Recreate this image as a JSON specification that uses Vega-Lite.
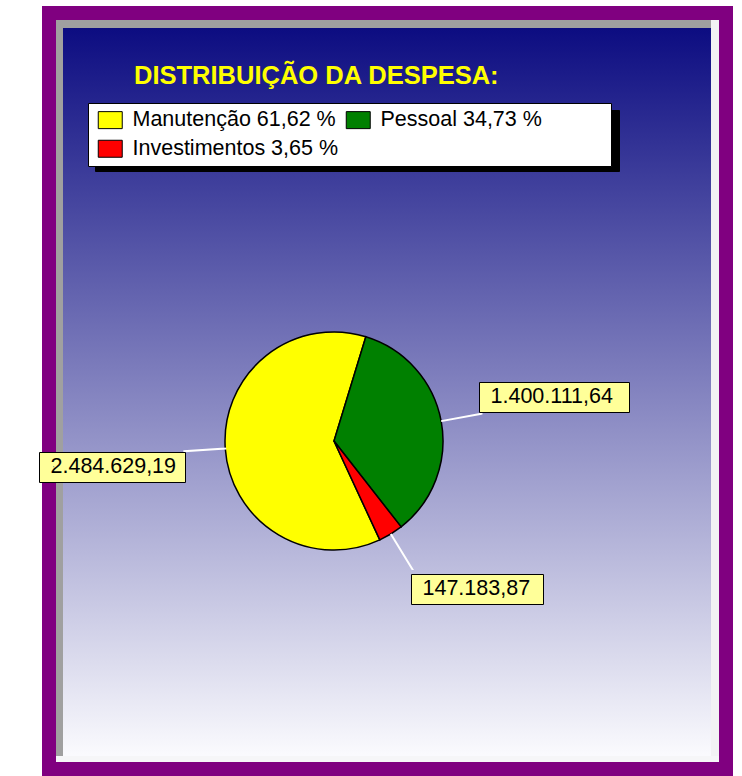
{
  "$schema": "https://vega.github.io/schema/vega-lite/v6.json",
  "width": 677,
  "height": 756,
  "autosize": {"type": "none"},
  "padding": {"left": 49, "top": 13, "right": 16, "bottom": 7},
  "background": "#ffffff",
  "view": {
    "stroke": "#800080",
    "strokeWidth": 14,
    "fill": {"gradient": "linear", "x1": 0, "y1": 0, "x2": 0, "y2": 1,
      "stops": [{"offset": 0.01, "color": "#0a0a80"}, {"offset": 0.985, "color": "#fbfbfe"}, {"offset": 1, "color": "#fbfbfe"}]}
  },
  "config": {
    "font": "Liberation Sans",
    "locale": {"number": {"decimal": ",", "thousands": ".", "grouping": [3], "currency": ["R$ ", ""]}}
  },
  "title": {
    "text": "DISTRIBUIÇÃO DA DESPESA:",
    "orient": "top",
    "anchor": "start",
    "frame": "group",
    "offset": -76,
    "dx": 85,
    "color": "#ffff00",
    "font": "Liberation Sans",
    "fontSize": 25.5,
    "fontWeight": "bold"
  },
  "data": {
    "values": [
      {"categoria": "Manutenção", "legenda": "Manutenção 61,62 %", "valor": 2484629.19},
      {"categoria": "Pessoal", "legenda": "Pessoal 34,73 %", "valor": 1400111.64},
      {"categoria": "Investimentos", "legenda": "Investimentos 3,65 %", "valor": 147183.87}
    ]
  },
  "layer": [
    {
      "data": {"values": [{}]},
      "mark": {"type": "rule", "stroke": "#a0a0a0", "strokeWidth": 7, "strokeCap": "butt"},
      "encoding": {"x": {"value": 10.5}, "y": {"value": 7}, "y2": {"value": 749}}
    },
    {
      "data": {"values": [{}]},
      "mark": {"type": "rule", "stroke": "#a0a0a0", "strokeWidth": 8, "strokeCap": "butt"},
      "encoding": {"y": {"value": 11}, "x": {"value": 7}, "x2": {"value": 670}}
    },
    {
      "data": {"values": [{}]},
      "mark": {"type": "rule", "stroke": "#f2f2f4", "strokeWidth": 8, "strokeCap": "butt"},
      "encoding": {"x": {"value": 666}, "y": {"value": 7}, "y2": {"value": 749}}
    },
    {
      "data": {"values": [{}]},
      "mark": {"type": "rule", "stroke": "#f6f6f8", "strokeWidth": 6, "strokeCap": "butt"},
      "encoding": {"y": {"value": 746}, "x": {"value": 7}, "x2": {"value": 670}}
    },
    {
      "mark": {"type": "arc", "x": 285, "y": 428, "radius": 109, "strokeWidth": 1.5},
      "encoding": {
        "theta": {"field": "valor", "type": "quantitative", "stack": true, "scale": {"range": [2.4784, 8.7616]}},
        "order": {"field": "legenda", "type": "nominal", "sort": "ascending"},
        "color": {
          "field": "legenda", "type": "nominal",
          "scale": {"domain": ["Manutenção 61,62 %", "Pessoal 34,73 %", "Investimentos 3,65 %"], "range": ["#ffff00", "#008000", "#ff0000"]},
          "legend": {
            "orient": "none", "legendX": 39, "legendY": 90, "title": "\u00a0", "titleOrient": "right", "titlePadding": 63,
            "direction": "horizontal", "columns": 2,
            "symbolType": "M-1.41,-1H1.41V1H-1.41Z", "symbolSize": 289, "symbolStrokeColor": "#000000", "symbolStrokeWidth": 1, "symbolOpacity": 1, "symbolOffset": 5.5,
            "labelFont": "Liberation Sans", "labelFontSize": 21.5, "labelColor": "#000000", "labelLimit": 400, "labelOffset": 11.5,
            "columnPadding": 3, "rowPadding": 6, "padding": 6, "fillColor": "#ffffff", "strokeColor": "#000000", "zindex": 2
          }
        },
        "stroke": {
          "field": "legenda", "type": "nominal", "sort": {"field": "valor", "order": "descending"},
          "scale": {"range": ["#000000", "#000000", "#000000"]},
          "legend": {
            "orient": "none", "legendX": 46, "legendY": 97, "title": null,
            "direction": "horizontal", "columns": 3,
            "symbolType": "square", "symbolSize": 3721, "symbolOpacity": 0, "symbolStrokeWidth": 0, "symbolOffset": 0,
            "labelExpr": "''", "labelFontSize": 1, "labelOffset": 0,
            "columnPadding": 170.5, "rowPadding": 0, "padding": 0, "fillColor": "#000000", "strokeColor": "#000000", "zindex": 1
          }
        }
      }
    },
    {
      "transform": [
        {"stack": "valor", "groupby": [], "sort": [{"field": "legenda", "order": "ascending"}], "as": ["s0", "s1"]},
        {"filter": "datum.categoria === 'Manutenção'"}
      ],
      "mark": {"type": "arc", "x": 285, "y": 428, "radius": 150, "radius2": 109, "thetaOffset": 1.93597, "theta2Offset": -1.93597, "fillOpacity": 0, "stroke": "#ffffff", "strokeWidth": 2},
      "encoding": {
        "theta": {"field": "s0", "type": "quantitative"},
        "theta2": {"field": "s1"},
        "opacity": {
          "field": "valor", "type": "ordinal", "scale": {"range": [1, 1]},
          "legend": {
            "orient": "none", "legendX": -10, "legendY": 439, "title": "\u00a0", "titleOrient": "right", "titlePadding": 5, "titleFontSize": 11,
            "format": ",.2f", "formatType": "number",
            "symbolType": "square", "symbolSize": 1, "symbolOpacity": 0, "symbolStrokeWidth": 0, "labelOffset": -14, "padding": 4,
            "labelFont": "Liberation Sans", "labelFontSize": 21.5, "labelColor": "#000000", "labelLimit": 400,
            "fillColor": "#ffff99", "strokeColor": "#000000", "zindex": 1
          }
        }
      }
    },
    {
      "transform": [
        {"stack": "valor", "groupby": [], "sort": [{"field": "legenda", "order": "ascending"}], "as": ["s0", "s1"]},
        {"filter": "datum.categoria === 'Pessoal'"}
      ],
      "mark": {"type": "arc", "x": 285, "y": 428, "radius": 150, "radius2": 109, "thetaOffset": 1.09094, "theta2Offset": -1.09094, "fillOpacity": 0, "stroke": "#ffffff", "strokeWidth": 2},
      "encoding": {
        "theta": {"field": "s0", "type": "quantitative"},
        "theta2": {"field": "s1"},
        "fill": {
          "field": "valor", "type": "ordinal", "scale": {"range": ["#ffffff"]},
          "legend": {
            "orient": "none", "legendX": 430, "legendY": 369, "title": "\u00a0", "titleOrient": "right", "titlePadding": 12, "titleFontSize": 11,
            "format": ",.2f", "formatType": "number",
            "symbolType": "square", "symbolSize": 1, "symbolOpacity": 0, "symbolStrokeWidth": 0, "labelOffset": -14, "padding": 4,
            "labelFont": "Liberation Sans", "labelFontSize": 21.5, "labelColor": "#000000", "labelLimit": 400,
            "fillColor": "#ffff99", "strokeColor": "#000000", "zindex": 1
          }
        }
      }
    },
    {
      "transform": [
        {"stack": "valor", "groupby": [], "sort": [{"field": "legenda", "order": "ascending"}], "as": ["s0", "s1"]},
        {"filter": "datum.categoria === 'Investimentos'"}
      ],
      "mark": {"type": "arc", "x": 285, "y": 428, "radius": 150, "radius2": 109, "thetaOffset": 0.114684, "theta2Offset": -0.114684, "fillOpacity": 0, "stroke": "#ffffff"},
      "encoding": {
        "theta": {"field": "s0", "type": "quantitative"},
        "theta2": {"field": "s1"},
        "strokeWidth": {
          "field": "valor", "type": "ordinal", "scale": {"range": [2, 2]},
          "legend": {
            "orient": "none", "legendX": 362, "legendY": 561, "title": "\u00a0", "titleOrient": "right", "titlePadding": 9, "titleFontSize": 11,
            "format": ",.2f", "formatType": "number",
            "symbolType": "square", "symbolSize": 1, "symbolOpacity": 0, "symbolStrokeWidth": 0, "labelOffset": -14, "padding": 4,
            "labelFont": "Liberation Sans", "labelFontSize": 21.5, "labelColor": "#000000", "labelLimit": 400,
            "fillColor": "#ffff99", "strokeColor": "#000000", "zindex": 1
          }
        }
      }
    }
  ]
}
